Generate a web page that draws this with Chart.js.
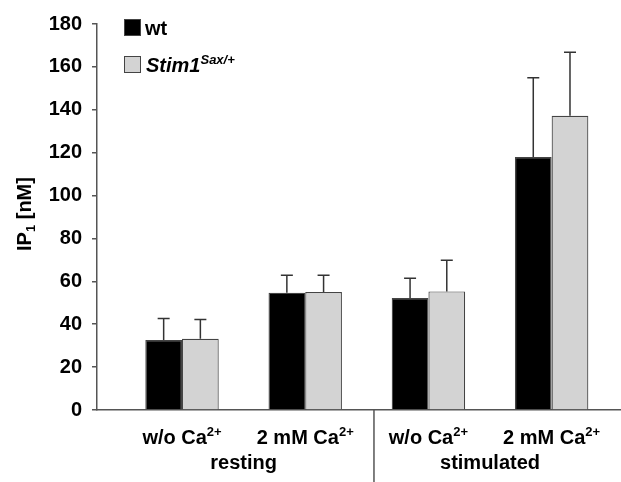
<!DOCTYPE html>
<html><head><meta charset="utf-8">
<script src="https://cdn.jsdelivr.net/npm/chart.js@4/dist/chart.umd.min.js"></script>
<style>html,body{margin:0;padding:0;background:#fff}#wrap{width:621px;height:482px;position:relative}</style>
</head><body><div id="wrap"><canvas id="c" width="621" height="482"></canvas></div>
<script>
// ---- data ----
const categories = ['w/o Ca', '2 mM Ca', 'w/o Ca', '2 mM Ca'];
const categorySup = ['2+', '2+', '2+', '2+'];
const categoryPositions = [1, 2, 3, 4];
const groupLabels = ['resting', 'stimulated'];
const seriesNames = ['wt', 'Stim1'];
const seriesSup = ['', 'Sax/+'];
const wtValues = [32.6, 54.7, 52.2, 118.0];
const wtErrors = [10.1, 8.1, 9.2, 36.9];
const stimValues = [33.2, 55.0, 55.3, 137.2];
const stimErrors = [9.0, 7.8, 14.5, 29.6];
const yTicks = [0, 20, 40, 60, 80, 100, 120, 140, 160, 180];
const yTitle = ['IP', '1', ' [nM]'];

const FONT = '"Liberation Sans", Arial, sans-serif';
const colors = ['#000000', '#d3d3d3'];
const errors = [wtErrors, stimErrors];
const values = [wtValues, stimValues];

function fontStr(size, italic) { return (italic ? 'italic ' : '') + 'bold ' + size + 'px ' + FONT; }
function drawParts(ctx, parts, x, y, align) {
  let total = 0;
  parts.forEach(p => { ctx.font = fontStr(p.size, p.italic); p.w = ctx.measureText(p.text).width; total += p.w; });
  let cx = align === 'center' ? x - total / 2 : x;
  ctx.textAlign = 'left'; ctx.textBaseline = 'alphabetic'; ctx.fillStyle = '#000';
  parts.forEach(p => { ctx.font = fontStr(p.size, p.italic); ctx.fillText(p.text, cx, y + (p.shift || 0)); cx += p.w; });
}

const decor = {
  id: 'decor',
  afterDatasetsDraw(chart) {
    const ctx = chart.ctx, xs = chart.scales.x, ys = chart.scales.y;
    ctx.save();
    // error bars
    ctx.strokeStyle = '#333'; ctx.lineWidth = 1.5;
    for (let d = 0; d < 2; d++) {
      const meta = chart.getDatasetMeta(d);
      meta.data.forEach((bar, j) => {
        const top = ys.getPixelForValue(values[d][j] + errors[d][j]);
        ctx.beginPath();
        ctx.moveTo(bar.x, bar.y); ctx.lineTo(bar.x, top);
        ctx.moveTo(bar.x - 6, top); ctx.lineTo(bar.x + 6, top);
        ctx.stroke();
      });
    }
    // separator between groups
    const sepX = xs.getPixelForValue(2.558);
    ctx.strokeStyle = '#555'; ctx.lineWidth = 1.5;
    ctx.beginPath(); ctx.moveTo(sepX, chart.chartArea.bottom); ctx.lineTo(sepX, chart.height); ctx.stroke();
    // category labels
    categories.forEach((c, i) => {
      const px = xs.getPixelForValue(categoryPositions[i]);
      drawParts(ctx, [{text: c, size: 20}, {text: categorySup[i], size: 13, shift: -8}], px, 444, 'center');
    });
    groupLabels.forEach((g, i) => {
      const px = xs.getPixelForValue((categoryPositions[2 * i] + categoryPositions[2 * i + 1]) / 2);
      drawParts(ctx, [{text: g, size: 20}], px, 469, 'center');
    });
    // y title
    ctx.save();
    ctx.translate(31, 214); ctx.rotate(-Math.PI / 2);
    drawParts(ctx, [{text: yTitle[0], size: 20}, {text: yTitle[1], size: 13, shift: 4}, {text: yTitle[2], size: 20}], 0, 0, 'center');
    ctx.restore();
    // legend
    const boxes = [19, 56];
    for (let d = 0; d < 2; d++) {
      ctx.fillStyle = colors[d]; ctx.fillRect(124, boxes[d], 17, 17);
      ctx.strokeStyle = '#444'; ctx.lineWidth = 1; ctx.strokeRect(124.5, boxes[d] + 0.5, 16, 16);
      const parts = [{text: seriesNames[d], size: 20, italic: d === 1}];
      if (seriesSup[d]) parts.push({text: seriesSup[d], size: 13, italic: true, shift: -8});
      drawParts(ctx, parts, d === 0 ? 145 : 146, boxes[d] + 16, 'left');
    }
    ctx.restore();
  }
};

new Chart(document.getElementById('c'), {
  type: 'bar',
  data: {
    datasets: [0, 1].map(d => ({
      label: seriesNames[d] + seriesSup[d],
      data: categoryPositions.map((x, i) => ({x: x, y: values[d][i]})),
      backgroundColor: colors[d],
      borderColor: '#444',
      borderWidth: 1.2,
      barPercentage: 1,
      categoryPercentage: 0.596
    }))
  },
  options: {
    responsive: false,
    devicePixelRatio: 1,
    animation: false,
    layout: {padding: {top: 24, left: 0, right: 0, bottom: 0}},
    plugins: {legend: {display: false}, tooltip: {enabled: false}},
    scales: {
      x: {
        type: 'linear', min: 0.31, max: 4.563, offset: false,
        afterBuildTicks(s) { s.ticks = categoryPositions.map(v => ({value: v})); },
        ticks: {display: false},
        grid: {display: false, drawTicks: false, offset: false},
        border: {display: true, color: '#555', width: 1.5},
        afterFit(s) { s.height = 72; }
      },
      y: {
        min: 0, max: 180,
        afterBuildTicks(s) { s.ticks = yTicks.map(v => ({value: v})); },
        ticks: {font: {family: FONT, size: 20, weight: 'bold'}, color: '#000', padding: 10},
        grid: {drawOnChartArea: false, tickLength: 5, color: '#555', tickColor: '#555', lineWidth: 1.5},
        border: {color: '#555', width: 1.5},
        afterFit(s) { s.width = 97; }
      }
    }
  },
  plugins: [decor]
});
</script></body></html>
